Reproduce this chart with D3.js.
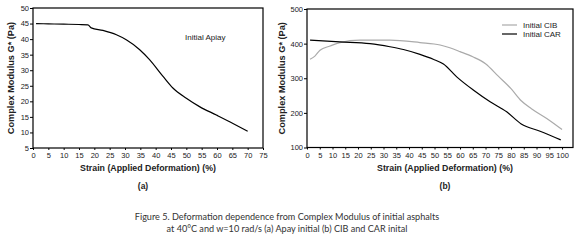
<!DOCTYPE html>
<html>
<head>
<meta charset="utf-8">
<script src="https://cdn.jsdelivr.net/npm/d3@7"></script>
<style>
  body { margin: 0; background: #fff; }
  svg { display: block; }
</style>
</head>
<body>
<div id="chart"></div>
<script>
// panel (a): Initial Apiay
let apiayStrain = [1, 5, 10, 15, 17.9, 19, 22.8, 27.2, 30.4, 34.8, 38, 42.4, 45.7, 50, 54.3, 59.8, 65.2, 70];
let apiayG = [45, 44.9, 44.8, 44.7, 44.6, 43.6, 42.8, 41.4, 39.8, 36.6, 33.4, 28, 24.2, 21, 18.3, 15.6, 12.9, 10.4];

// panel (b): CIB and CAR
let cibStrain = [1.2, 3.1, 5.1, 9, 12.9, 20.8, 32.5, 44.3, 52.2, 56, 60, 65, 70, 75, 80, 84, 88, 94, 100];
let cibG = [355, 364, 381, 393, 403, 410, 410, 403, 396, 388, 377, 362, 342, 306, 270, 235, 212, 184, 152];
let carStrain = [1.2, 12.9, 24.7, 32.5, 37.8, 44.3, 49.5, 53.5, 58.7, 65.2, 71.8, 78.3, 84, 91.4, 99.5];
let carG = [410, 405, 400, 391, 383, 369, 355, 341, 304, 266, 232, 203, 168, 147, 122];

let xTicksA = d3.range(0, 80, 5);
let yTicksA = d3.range(5, 55, 5);
let xTicksB = d3.range(0, 105, 5);
let yTicksB = [100, 200, 300, 400, 500];

let captionLines = [
    "Figure 5. Deformation dependence from Complex Modulus of initial asphalts",
    "at 40°C and w=10 rad/s (a) Apay initial (b) CIB and CAR inital"
];

let width = 577, height = 247;

let svg = d3.select("#chart")
    .append("svg")
    .attr("width", width)
    .attr("height", height)
    .attr("font-family", "'Liberation Sans', Arial, sans-serif");

function panel(opts) {
    let x = d3.scaleLinear().domain(opts.xDomain).range([opts.left, opts.right]);
    let y = d3.scaleLinear().domain(opts.yDomain).range([opts.bottom, opts.top]);

    let g = svg.append("g");

    g.append("g")
        .attr("transform", `translate(0,${opts.bottom})`)
        .call(d3.axisBottom(x).tickValues(opts.xTicks).tickSize(2).tickPadding(3))
        .call(a => a.select(".domain").remove())
        .call(a => a.selectAll("text").attr("font-size", 7.5).attr("fill", "#222"));

    g.append("g")
        .attr("transform", `translate(${opts.left},0)`)
        .call(d3.axisLeft(y).tickValues(opts.yTicks).tickSize(3).tickPadding(1))
        .call(a => a.select(".domain").remove())
        .call(a => a.selectAll("text").attr("font-size", 7.5).attr("fill", "#222"));

    // frame
    g.append("rect")
        .attr("x", opts.left)
        .attr("y", opts.top)
        .attr("width", opts.right - opts.left)
        .attr("height", opts.bottom - opts.top)
        .attr("fill", "none")
        .attr("stroke", "#000")
        .attr("stroke-width", 1.2);

    let line = d3.line()
        .x(d => x(d[0]))
        .y(d => y(d[1]))
        .curve(d3.curveMonotoneX);

    opts.series.forEach(s => {
        g.append("path")
            .datum(d3.zip(s.xs, s.ys))
            .attr("fill", "none")
            .attr("stroke", s.color)
            .attr("stroke-width", 1.2)
            .attr("d", line);
    });

    // axis titles
    g.append("text")
        .attr("x", (opts.left + opts.right) / 2 + opts.titleShift)
        .attr("y", 171)
        .attr("text-anchor", "middle")
        .attr("font-size", 8.8)
        .attr("font-weight", "bold")
        .attr("fill", "#222")
        .text("Strain (Applied Deformation) (%)");

    g.append("text")
        .attr("transform", `translate(${opts.yTitleX},${(opts.top + opts.bottom) / 2}) rotate(-90)`)
        .attr("text-anchor", "middle")
        .attr("font-size", 9.2)
        .attr("font-weight", "bold")
        .attr("fill", "#222")
        .text("Complex Modulus G* (Pa)");

    g.append("text")
        .attr("x", opts.tagX)
        .attr("y", 189)
        .attr("text-anchor", "middle")
        .attr("font-size", 8.5)
        .attr("font-weight", "bold")
        .attr("fill", "#222")
        .text(opts.tag);

    return g;
}

let ga = panel({
    left: 33, right: 263, top: 8, bottom: 148,
    xDomain: [0, 75], yDomain: [5, 50],
    xTicks: xTicksA, yTicks: yTicksA,
    series: [{ xs: apiayStrain, ys: apiayG, color: "#000" }],
    titleShift: 0, yTitleX: 14, tag: "(a)", tagX: 143
});

ga.append("text")
    .attr("x", 185)
    .attr("y", 40)
    .attr("font-size", 8)
    .attr("fill", "#222")
    .text("Initial Apiay");

let gb = panel({
    left: 307, right: 573, top: 9, bottom: 147.5,
    xDomain: [0, 104.3], yDomain: [100, 500],
    xTicks: xTicksB, yTicks: yTicksB,
    series: [
        { xs: cibStrain, ys: cibG, color: "#aaa" },
        { xs: carStrain, ys: carG, color: "#000" }
    ],
    titleShift: 5, yTitleX: 285, tag: "(b)", tagX: 445
});

let legendItems = [{ name: "Initial CIB", color: "#aaa" }, { name: "Initial CAR", color: "#000" }];
let legend = gb.append("g").attr("transform", "translate(502,25)");
legendItems.forEach((d, i) => {
    legend.append("line")
        .attr("x1", 0).attr("x2", 15)
        .attr("y1", i * 9).attr("y2", i * 9)
        .attr("stroke", d.color)
        .attr("stroke-width", 1.2);
    legend.append("text")
        .attr("x", 21)
        .attr("y", i * 9)
        .attr("dy", "0.35em")
        .attr("font-size", 8)
        .attr("fill", "#222")
        .text(d.name);
});

svg.append("g")
    .attr("font-family", "Lato, 'Open Sans', sans-serif")
    .attr("font-size", 9.1)
    .attr("fill", "#333")
    .attr("text-anchor", "middle")
    .selectAll("text")
    .data(captionLines)
    .join("text")
    .attr("x", 287)
    .attr("y", (d, i) => 220 + i * 12)
    .text(d => d);
</script>
</body>
</html>
